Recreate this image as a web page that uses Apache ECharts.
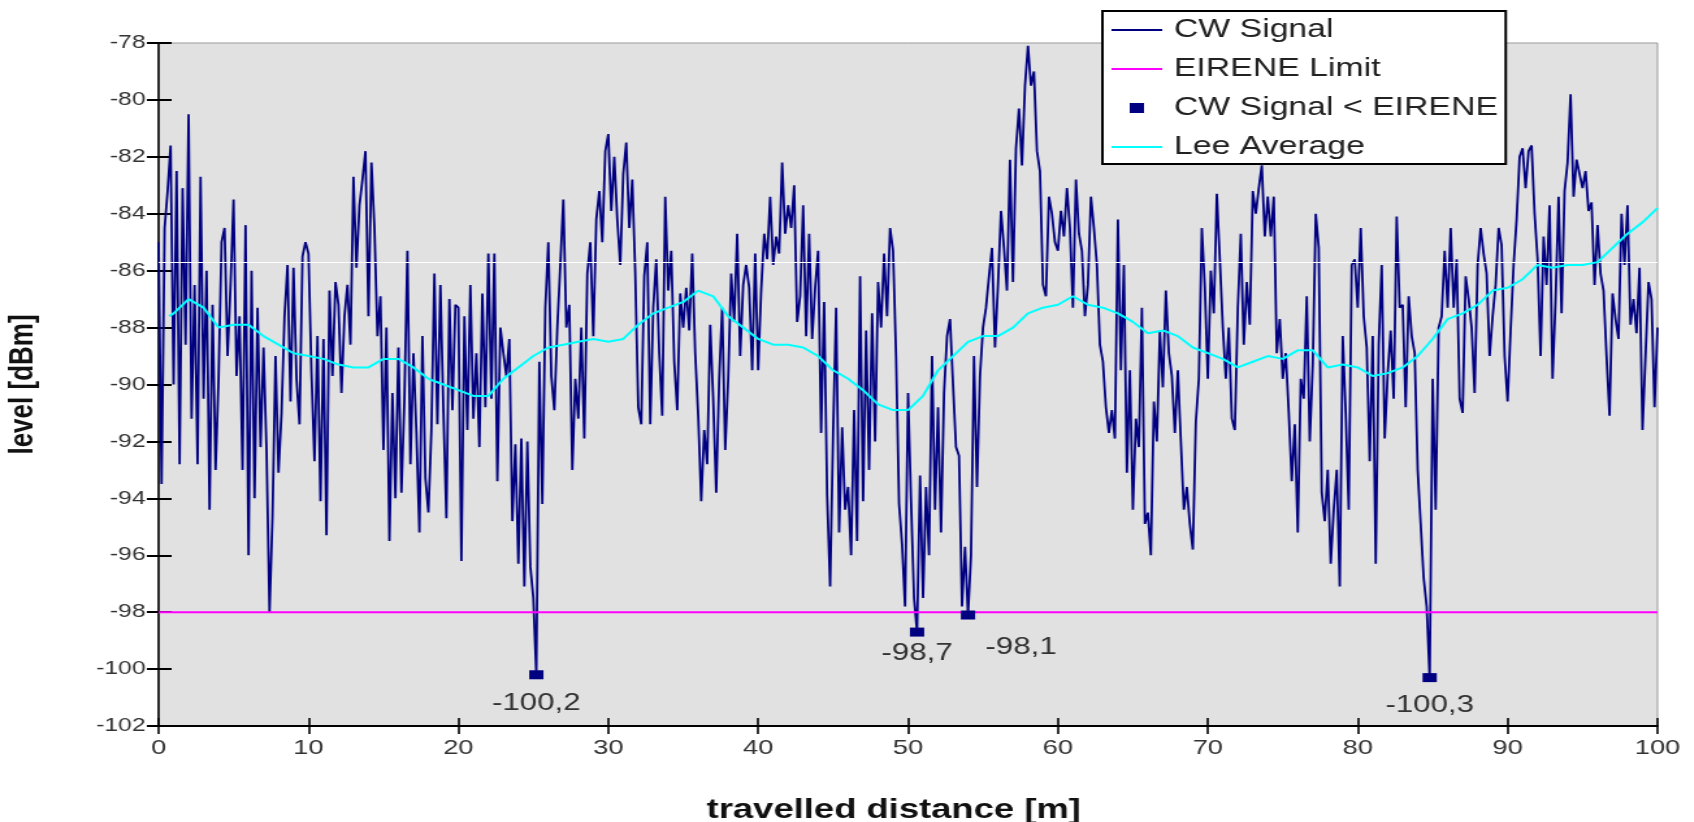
<!DOCTYPE html>
<html>
<head>
<meta charset="utf-8">
<title>CW signal level</title>
<script src="https://cdn.jsdelivr.net/npm/echarts/dist/echarts.min.js"></script>
</head>
<body style="margin:0;overflow:hidden">
<!-- the source picture is stretched sideways, so the chart is drawn narrow and widened -->
<div id="chart" style="width:1303px;height:822px;transform:scaleX(1.3);transform-origin:0 0;"></div>
<script>
// CW signal, one sample every 0.2 m (0 .. 100 m)
var step = 0.2;
var cwLevel = [
  // 0 - 10 m
  -85.0, -93.5, -84.5, -83.2, -81.6, -90.0, -82.5, -92.8, -83.1, -88.6,
  -80.5, -91.2, -86.5, -92.8, -82.7, -90.5, -86.0, -94.4, -87.2, -93.0,
  -89.8, -85.0, -84.5, -89.0, -86.5, -83.5, -89.7, -87.6, -93.0, -84.4,
  -96.0, -86.0, -94.0, -87.3, -92.2, -88.7, -92.3, -98.0, -94.6, -89.0,
  -93.1, -91.0, -87.6, -85.8, -90.6, -85.9, -89.8, -91.4, -85.5, -85.0,
  // 10 - 20 m
  -85.4, -89.6, -92.7, -88.3, -94.1, -88.4, -95.3, -86.7, -89.7, -86.4,
  -87.2, -90.3, -87.6, -86.5, -88.6, -82.7, -85.9, -83.7, -82.8, -81.8,
  -87.6, -82.2, -84.5, -88.3, -86.9, -92.3, -88.0, -95.5, -90.3, -94.0,
  -88.7, -93.8, -90.5, -85.3, -92.8, -88.9, -91.7, -95.2, -88.3, -93.3,
  -94.5, -91.6, -86.1, -91.4, -86.5, -90.9, -94.7, -87.0, -90.9, -87.2,
  // 20 - 30 m
  -87.3, -96.2, -87.6, -91.6, -86.5, -91.2, -88.9, -92.2, -86.8, -90.8,
  -85.4, -90.5, -85.4, -93.4, -88.0, -88.9, -89.7, -88.4, -94.8, -92.1,
  -96.3, -91.9, -97.1, -92.0, -96.4, -97.5, -100.2, -89.2, -94.2, -87.3,
  -85.0, -89.7, -90.9, -88.0, -85.8, -83.5, -88.0, -87.2, -93.0, -89.8,
  -91.2, -88.0, -91.9, -86.1, -85.0, -88.3, -84.2, -83.2, -85.0, -81.8,
  // 30 - 40 m
  -81.2, -83.9, -82.0, -84.2, -85.8, -82.6, -81.5, -84.5, -82.8, -86.1,
  -90.8, -91.4, -86.2, -85.0, -91.4, -87.3, -85.6, -88.9, -91.1, -83.4,
  -86.7, -85.3, -89.2, -90.9, -86.8, -88.0, -86.6, -88.1, -85.4, -88.9,
  -91.1, -94.1, -91.6, -92.8, -87.9, -90.5, -93.8, -89.8, -87.3, -92.3,
  -89.8, -86.1, -87.8, -84.7, -89.0, -86.5, -85.8, -86.6, -89.5, -85.4,
  // 40 - 50 m
  -89.5, -86.7, -84.7, -85.6, -83.4, -85.8, -84.8, -85.4, -82.2, -84.7,
  -83.7, -84.5, -83.0, -87.8, -86.9, -83.7, -88.3, -84.7, -88.4, -86.6,
  -85.3, -91.7, -87.1, -93.9, -97.1, -91.7, -87.3, -95.2, -91.5, -94.4,
  -93.6, -96.0, -90.9, -95.5, -86.2, -94.1, -88.1, -93.0, -87.5, -92.0,
  -86.4, -88.0, -85.4, -87.6, -84.5, -85.3, -89.0, -94.2, -95.6, -97.8,
  // 50 - 60 m
  -90.3, -94.1, -97.5, -98.7, -93.2, -97.5, -93.6, -96.0, -89.0, -94.4,
  -90.8, -95.2, -90.3, -88.3, -87.7, -90.0, -92.2, -92.5, -97.8, -95.7,
  -98.1, -96.0, -89.0, -93.6, -89.7, -88.0, -87.3, -86.2, -85.2, -88.7,
  -86.5, -83.9, -85.2, -86.7, -82.1, -86.4, -81.7, -80.3, -82.3, -79.5,
  -78.1, -79.5, -79.0, -81.8, -82.5, -86.5, -86.9, -83.4, -84.0, -85.0,
  // 60 - 70 m
  -85.3, -83.9, -84.8, -83.1, -84.5, -87.3, -82.8, -84.7, -85.3, -87.6,
  -86.5, -83.4, -84.5, -85.8, -88.6, -89.2, -90.8, -91.7, -90.9, -91.9,
  -84.2, -89.5, -85.8, -93.1, -89.5, -94.4, -91.2, -92.2, -87.3, -94.9,
  -94.5, -96.0, -90.6, -92.0, -88.1, -90.1, -86.7, -88.9, -89.7, -91.7,
  -89.5, -92.0, -94.4, -93.6, -94.9, -95.8, -91.3, -89.8, -84.5, -86.6,
  // 70 - 80 m
  -89.8, -86.0, -87.5, -83.3, -85.6, -88.0, -89.8, -88.0, -91.2, -91.6,
  -87.3, -84.7, -88.6, -86.4, -87.9, -83.2, -84.0, -83.1, -82.3, -84.8,
  -83.4, -84.8, -83.4, -88.9, -87.7, -89.8, -88.9, -91.0, -93.4, -91.4,
  -95.2, -89.8, -90.5, -86.9, -92.0, -89.3, -84.0, -85.2, -93.8, -94.8,
  -93.0, -96.3, -94.4, -93.0, -97.1, -88.3, -91.0, -94.4, -85.8, -85.6,
  // 80 - 90 m
  -87.3, -84.5, -87.6, -88.7, -92.7, -88.3, -96.3, -88.6, -85.8, -91.9,
  -89.6, -88.1, -90.5, -84.1, -87.3, -87.2, -90.8, -86.9, -88.3, -88.9,
  -93.0, -94.9, -96.8, -97.8, -100.3, -89.8, -94.4, -88.0, -87.6, -85.3,
  -87.3, -84.5, -87.3, -85.6, -90.5, -91.0, -86.2, -87.0, -88.0, -90.3,
  -85.8, -84.5, -85.4, -86.1, -89.0, -87.6, -86.5, -84.5, -85.1, -89.0,
  // 90 - 100 m
  -90.6, -88.1, -85.8, -84.2, -82.0, -81.7, -83.1, -81.8, -81.6, -84.0,
  -85.6, -89.0, -84.8, -86.5, -83.7, -89.8, -87.0, -83.4, -87.5, -83.2,
  -82.2, -79.8, -83.4, -82.1, -82.6, -83.1, -82.5, -83.9, -83.6, -86.5,
  -84.4, -86.1, -86.7, -89.0, -91.1, -86.8, -87.7, -88.4, -84.0, -85.8,
  -83.7, -87.9, -87.0, -88.2, -85.9, -91.6, -89.0, -86.4, -87.0, -90.8,
  -88.0
];

// Lee average: starts at 0.7 m, then every metre
var leeDist = [0.7, 1, 2, 3, 4, 5, 6, 7, 8, 9, 10, 11, 12, 13, 14, 15, 16, 17, 18, 19, 20,
  21, 22, 23, 24, 25, 26, 27, 28, 29, 30, 31, 32, 33, 34, 35, 36, 37, 38, 39, 40,
  41, 42, 43, 44, 45, 46, 47, 48, 49, 50, 51, 52, 53, 54, 55, 56, 57, 58, 59, 60,
  61, 62, 63, 64, 65, 66, 67, 68, 69, 70, 71, 72, 73, 74, 75, 76, 77, 78, 79, 80,
  81, 82, 83, 84, 85, 86, 87, 88, 89, 90, 91, 92, 93, 94, 95, 96, 97, 98, 99, 100];
var leeLevel = [-87.6, -87.5, -87.0, -87.3, -88.0, -87.9, -87.9, -88.3, -88.6, -88.9, -89.0,
  -89.1, -89.3, -89.4, -89.4, -89.1, -89.1, -89.4, -89.8, -90.0, -90.2,
  -90.4, -90.4, -89.8, -89.4, -89.0, -88.7, -88.6, -88.5, -88.4, -88.5,
  -88.4, -87.9, -87.5, -87.3, -87.1, -86.7, -86.9, -87.6, -88.0, -88.4,
  -88.6, -88.6, -88.7, -89.0, -89.5, -89.8, -90.2, -90.7, -90.9, -90.9,
  -90.4, -89.5, -89.0, -88.5, -88.3, -88.3, -88.0, -87.5, -87.3, -87.2,
  -86.9, -87.2, -87.3, -87.5, -87.8, -88.2, -88.1, -88.3, -88.7, -88.9,
  -89.1, -89.4, -89.2, -89.0, -89.1, -88.8, -88.8, -89.4, -89.3, -89.4,
  -89.7, -89.6, -89.4, -89.0, -88.4, -87.7, -87.5, -87.2, -86.7, -86.6,
  -86.3, -85.8, -85.9, -85.8, -85.8, -85.7, -85.2, -84.7, -84.3, -83.8];

var limitLevel = -98;

// samples below the EIRENE limit
var belowDist = [25.2, 50.6, 54.0, 84.8];
var belowLevel = [-100.2, -98.7, -98.1, -100.3];

var cwData = cwLevel.map(function (v, i) { return [+(i * step).toFixed(1), v]; });
var leeData = leeDist.map(function (d, i) { return [d, leeLevel[i]]; });
var limitData = [[0, limitLevel], [100, limitLevel]];
var belowLabelPos = [
  { position: 'bottom', distance: 12 },
  { position: 'bottom', distance: 5 },
  { position: 'right', distance: 4, offset: [4, 32] },
  { position: 'bottom', distance: 11 }
];
var belowData = belowDist.map(function (d, i) {
  return { value: [d, belowLevel[i]], label: belowLabelPos[i] };
});

var font = 'Liberation Sans, Arial, sans-serif';
var tickStyle = { color: '#000', width: 2 };
var lineIcon = 'path://M0,0h39v2h-39z';

var myChart = echarts.init(document.getElementById('chart'));
var option = {
  animation: false,
  textStyle: { fontFamily: font },
  grid: {
    left: 122, right: 28, top: 43, bottom: 96,
    outerBoundsMode: 'none', containLabel: false,
    show: true, backgroundColor: '#e1e1e1', borderColor: '#999', borderWidth: 1
  },
  legend: {
    left: 848, top: 11, orient: 'vertical',
    backgroundColor: '#fff', borderColor: '#000', borderWidth: 2,
    padding: [5, 6, 3, 7],
    itemWidth: 39, itemHeight: 10, itemGap: 11,
    textStyle: { fontSize: 26, color: '#222', lineHeight: 28, padding: [0, 0, 0, 4] },
    data: [
      { name: 'CW Signal', icon: lineIcon },
      { name: 'EIRENE Limit', icon: lineIcon },
      { name: 'CW Signal < EIRENE', icon: 'path://M0,0h11v10h-11z' },
      { name: 'Lee Average', icon: lineIcon }
    ]
  },
  xAxis: [{
    type: 'value', min: 0, max: 100, interval: 10,
    name: 'travelled distance [m]', nameLocation: 'middle', nameGap: 70,
    nameTextStyle: { fontWeight: 'bold', fontSize: 28, color: '#111', padding: [0, 22, 0, 0] },
    axisLine: { lineStyle: tickStyle },
    axisTick: { length: 8, lineStyle: { color: '#000', width: 1.6 } },
    axisLabel: { fontSize: 21, color: '#333', margin: 12 },
    splitLine: { show: false }
  }, {
    // inner half of the crossing ticks
    type: 'value', min: 0, max: 100, interval: 10, position: 'bottom',
    axisLine: { show: false },
    axisTick: { inside: true, length: 8, lineStyle: { color: '#000', width: 1.6 } },
    axisLabel: { show: false },
    splitLine: { show: false }
  }],
  yAxis: [{
    type: 'value', min: -102, max: -78, interval: 2,
    name: 'level [dBm]', nameLocation: 'middle', nameGap: 91,
    nameTextStyle: { fontWeight: 'bold', fontSize: 26, color: '#111' },
    axisLine: { show: true, lineStyle: { color: '#000', width: 1.6 } },
    axisTick: { show: true, length: 9, lineStyle: tickStyle },
    axisLabel: { fontSize: 19, color: '#333', margin: 10 },
    splitLine: { show: false }
  }, {
    type: 'value', min: -102, max: -78, interval: 2, position: 'left',
    axisLine: { show: false },
    axisTick: { show: true, inside: true, length: 10, lineStyle: tickStyle },
    axisLabel: { show: false },
    splitLine: { show: false }
  }],
  series: [{
    name: 'CW Signal', type: 'line', data: cwData,
    symbol: 'none', color: '#000080',
    lineStyle: { color: '#000080', width: 1.8 }
  }, {
    name: 'EIRENE Limit', type: 'line', data: limitData,
    symbol: 'none', color: '#ff00ff',
    lineStyle: { color: '#ff00ff', width: 2 },
    markLine: {
      // faint white line across the plot in the source picture
      silent: true, symbol: ['none', 'none'], label: { show: false },
      lineStyle: { color: '#ffffff', width: 1, type: 'solid' },
      data: [{ yAxis: -85.7 }]
    }
  }, {
    name: 'CW Signal < EIRENE', type: 'scatter', data: belowData,
    symbol: 'rect', symbolSize: [11, 9], color: '#000080', z: 4,
    itemStyle: { color: '#000080', opacity: 1 },
    label: {
      show: true, fontSize: 24, color: '#333',
      formatter: function (p) { return p.value[1].toFixed(1).replace('.', ','); }
    }
  }, {
    name: 'Lee Average', type: 'line', data: leeData,
    symbol: 'none', color: '#00ffff', z: 5,
    lineStyle: { color: '#00ffff', width: 2 }
  }]
};
myChart.setOption(option);
</script>
</body>
</html>
